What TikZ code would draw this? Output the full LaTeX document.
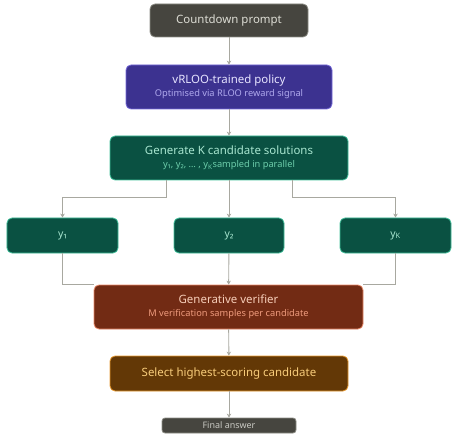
\documentclass[tikz,border=0pt]{standalone}
\usepackage{fontspec}
\setmainfont{Noto Sans}
\usetikzlibrary{arrows.meta}
\definecolor{grayfill}{HTML}{46453F}
\definecolor{grayline}{HTML}{8C8C84}
\definecolor{graytext}{HTML}{DCDCD4}
\definecolor{purfill}{HTML}{3C3290}
\definecolor{purline}{HTML}{7468D8}
\definecolor{purtext}{HTML}{E6E4FF}
\definecolor{pursub}{HTML}{AEA8EC}
\definecolor{grnfill}{HTML}{0A5142}
\definecolor{grnline}{HTML}{40C09A}
\definecolor{grntext}{HTML}{A8E6D0}
\definecolor{grnsub}{HTML}{6CCCAA}
\definecolor{redfill}{HTML}{722B14}
\definecolor{redline}{HTML}{E88868}
\definecolor{redtext}{HTML}{F6CDB8}
\definecolor{redsub}{HTML}{EE9A7C}
\definecolor{ambfill}{HTML}{633806}
\definecolor{ambline}{HTML}{E89A30}
\definecolor{ambtext}{HTML}{F8CC7A}
\definecolor{conn}{HTML}{A8A8A0}
\tikzset{
  box/.style={rounded corners=5pt, line width=0.8pt, inner sep=0pt, align=center},
  gbox/.style={box, fill=grayfill, draw=grayline, text=graytext},
  pbox/.style={box, fill=purfill, draw=purline, text=purtext},
  nbox/.style={box, fill=grnfill, draw=grnline, text=grntext},
  rbox/.style={box, fill=redfill, draw=redline, text=redtext},
  abox/.style={box, fill=ambfill, draw=ambline, text=ambtext},
  link/.style={draw=conn, line width=0.9pt},
  arr/.style={link, -{Stealth[length=4pt,width=4.5pt]}},
  ttl/.style={font=\fontsize{11.5}{13}\selectfont},
}
\newcommand{\ttltext}[1]{{\fontsize{11.5}{13}\selectfont #1}}
\newcommand{\subtext}[2]{{\fontsize{9.3}{11}\selectfont\color{#1}#2}}
\begin{document}
\begin{tikzpicture}[x=1bp,y=-1bp]
\useasboundingbox (0,0) rectangle (453,436);
\node[gbox, minimum width=158bp, minimum height=33bp, ttl] (cp) at (229,20.5) {Countdown prompt};
\node[pbox, minimum width=206bp, minimum height=44bp] (pol) at (229,87)
  {\ttltext{vRLOO-trained policy}\\[1pt]\subtext{pursub}{Optimised via RLOO reward signal}};
\node[nbox, minimum width=238bp, minimum height=44bp] (gen) at (229,158)
  {\ttltext{Generate K candidate solutions}\\[1pt]\subtext{grnsub}{y₁, y₂, … , y\textsubscript{K}sampled in parallel}};
\node[nbox, minimum width=111bp, minimum height=35bp, font=\fontsize{10.5}{12}\selectfont] (y1) at (62.5,235.5) {y₁};
\node[nbox, minimum width=110bp, minimum height=35bp, font=\fontsize{10.5}{12}\selectfont] (y2) at (229,235.5) {y₂};
\node[nbox, minimum width=111bp, minimum height=35bp, font=\fontsize{10.5}{12}\selectfont] (yk) at (395.5,235.5) {y\textsubscript{K}};
\coordinate (gl) at (166,180);
\coordinate (gr) at (292,180);
\coordinate (vl) at (94,284);
\coordinate (vr) at (363,284);
\draw[arr] (cp) -- (pol);
\draw[arr] (pol) -- (gen);
\draw[arr] (gen) -- (y2);
\draw[arr] (gl) -- (166,197) -| (y1.north);
\draw[arr] (gr) -- (292,197) -| (yk.north);
\draw[link] (y1.south) |- (vl);
\draw[link] (yk.south) |- (vr);
\node[rbox, minimum width=269bp, minimum height=44bp] (ver) at (228.5,307)
  {\ttltext{Generative verifier}\\[1pt]\subtext{redsub}{M verification samples per candidate}};
\draw[arr] (y2) -- (ver);
\node[abox, minimum width=238bp, minimum height=35bp, ttl] (sel) at (229,373.5) {Select highest-scoring candidate};
\draw[arr] (ver) -- (sel);
\node[gbox, rounded corners=3pt, minimum width=134bp, minimum height=15bp, font=\fontsize{9}{10}\selectfont, text=graytext!80!gray] (fin) at (229,425.5) {Final answer};
\draw[arr] (sel) -- (fin);
\end{tikzpicture}
\end{document}
